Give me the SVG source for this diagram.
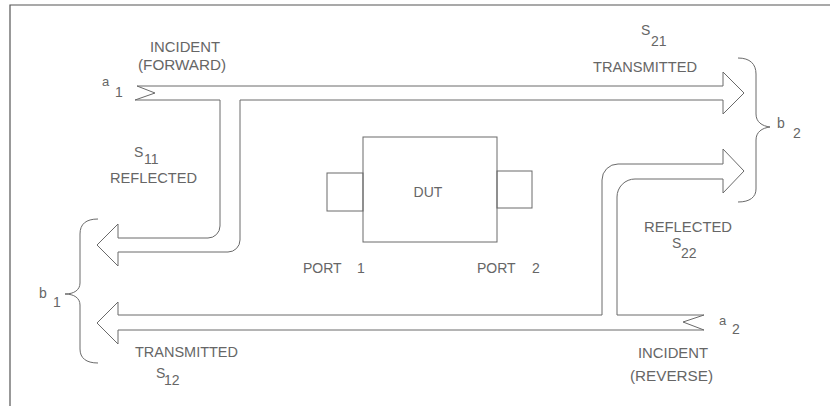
<svg xmlns="http://www.w3.org/2000/svg" width="830" height="406" viewBox="0 0 830 406">
<style>
.ln{fill:none;stroke:#6a6a6a;stroke-width:1}
.fr{fill:none;stroke:#555;stroke-width:1.2}
text{font-family:"Liberation Sans",Arial,sans-serif;font-size:14px;fill:#666}
.sm{font-size:13px}
.sub{font-size:14px}
</style>
<rect width="830" height="406" fill="#fff"/>
<path class="fr" d="M10,406 V5 H830"/>
<g id="connectors">
<g id="forward">
<path class="ln" d="M137,86 H723 V72 L744,93 L723,114 V100 H240 V240 A12,12 0 0 1 228,252 H118 V266 L97,245 L118,224 V238 H208 A12,12 0 0 0 220,226 V100 H135 L155,93 Z"/>
</g>
<g id="reverse">
<path class="ln" d="M704,330 H118 V344 L97,323 L118,302 V315 H602 V180 A16,16 0 0 1 618,164 H723 V149 L744,171 L723,193 V179 H635 A18,18 0 0 0 617,197 V315 H704 L683,322 Z"/>
</g>
<g id="braces">
<path class="ln" d="M98,219 C86,219 80,224 80,234 V283 C80,290 74,294 65,294 C74,294 80,298 80,305 V349 C80,358 86,363 98,363"/>
<path class="ln" d="M738,58 C750,58 756,64 756,74 V114 C756,122 762,126 770,127 C762,128 756,132 756,140 V189 C756,197 750,202 738,202"/>
</g>
</g>
<g id="dut">
<rect class="ln" x="363" y="137" width="134" height="105"/>
<rect class="ln" x="327" y="173" width="36" height="38"/>
<rect class="ln" x="497" y="171" width="35" height="37"/>
<text x="428" y="197" text-anchor="middle">DUT</text>
</g>
<g id="port1"><text y="273"><tspan x="303">PORT</tspan><tspan x="357">1</tspan></text></g>
<g id="port2"><text y="273"><tspan x="477">PORT</tspan><tspan x="532">2</tspan></text></g>
<g id="a1-label">
<text class="sm" x="102" y="86">a</text><text class="sub" x="115" y="97">1</text>
<text x="150" y="52" textLength="70" lengthAdjust="spacingAndGlyphs">INCIDENT</text>
<text x="138" y="70" textLength="88" lengthAdjust="spacingAndGlyphs">(FORWARD)</text>
</g>
<g id="s11-label">
<text x="134" y="157">S</text><text class="sub" x="144" y="164">11</text>
<text x="110" y="183" textLength="87" lengthAdjust="spacingAndGlyphs">REFLECTED</text>
</g>
<g id="b1-label">
<text x="39" y="298">b</text><text class="sub" x="53" y="307">1</text>
</g>
<g id="s12-label">
<text x="135" y="357" textLength="103" lengthAdjust="spacingAndGlyphs">TRANSMITTED</text>
<text x="156" y="378">S</text><text class="sub" x="164" y="385">12</text>
</g>
<g id="s21-label">
<text x="641" y="35">S</text><text class="sub" x="651" y="46">21</text>
<text x="593" y="72" textLength="104" lengthAdjust="spacingAndGlyphs">TRANSMITTED</text>
</g>
<g id="b2-label">
<text x="777" y="128">b</text><text class="sub" x="793" y="138">2</text>
</g>
<g id="s22-label">
<text x="644" y="232" textLength="88" lengthAdjust="spacingAndGlyphs">REFLECTED</text>
<text x="672" y="248">S</text><text class="sub" x="681" y="258">22</text>
</g>
<g id="a2-label">
<text class="sm" x="719" y="325">a</text><text class="sub" x="732" y="334">2</text>
<text x="638" y="358" textLength="70" lengthAdjust="spacingAndGlyphs">INCIDENT</text>
<text x="630" y="381" textLength="83" lengthAdjust="spacingAndGlyphs">(REVERSE)</text>
</g>
</svg>
